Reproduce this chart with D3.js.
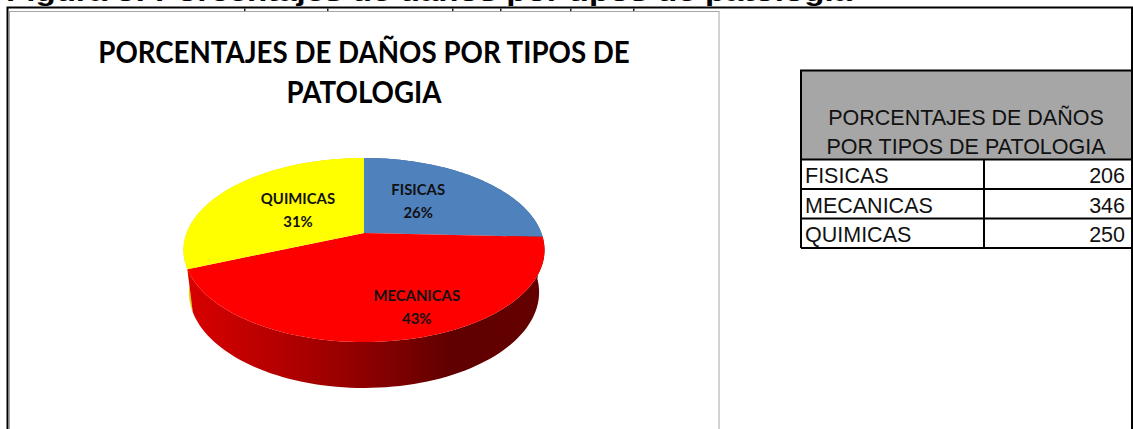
<!DOCTYPE html>
<html>
<head>
  <meta charset="utf-8">
  <script src="https://d3js.org/d3.v7.min.js"></script>
  <style>
    body { margin: 0; background: #fff; overflow: hidden; }
    svg { display: block; }
    .cell { font-family: "Liberation Sans", Arial, sans-serif; font-size: 21.5px; fill: #111; }
    .pielabel { font-family: Lato, sans-serif; font-weight: 700; font-size: 16px; fill: #111; text-anchor: middle; }
  </style>
</head>
<body>
  <div class="chart"></div>
  <script>
    var categories = ["FISICAS", "MECANICAS", "QUIMICAS"];
    var values = [206, 346, 250];
    var topColors = ["#4f81bd", "#ff0000", "#ffff00"];
    var titleLines = ["PORCENTAJES DE DAÑOS POR TIPOS DE", "PATOLOGIA"];
    var tableHead = ["PORCENTAJES DE DAÑOS", "POR TIPOS DE PATOLOGIA"];
    var caption = "Figura 3: Porcentajes de daños por tipos de patología";
    // labels in the picture sit off the slice middle, hand moved in the original
    var labelNudge = [[-6, -4], [36, 25], [4, 0]];
    var captionMarks = [244, 327, 452, 500, 570, 633];

    var width = 1133, height = 429;

    var svg = d3.select(".chart").append("svg")
      .attr("width", width)
      .attr("height", height);

    var defs = svg.append("defs");

    var wallGradient = defs.append("linearGradient")
      .attr("id", "wallRed")
      .attr("gradientUnits", "userSpaceOnUse")
      .attr("x1", 190).attr("x2", 545).attr("y1", 0).attr("y2", 0);
    [[0, "#d80000"], [0.31, "#ac0000"], [0.59, "#7c0000"], [0.73, "#600000"], [1, "#640000"]].forEach(function(s) {
      wallGradient.append("stop").attr("offset", s[0]).attr("stop-color", s[1]);
    });

    // caption, cut by the top of the picture
    svg.append("text")
      .attr("x", 6).attr("y", 1)
      .attr("textLength", 846)
      .attr("lengthAdjust", "spacingAndGlyphs")
      .style("font", "700 26px 'Liberation Sans', Arial, sans-serif")
      .text(caption);

    svg.selectAll(".mark").data(captionMarks).enter().append("rect")
      .attr("class", "mark")
      .attr("x", function(d) { return d; })
      .attr("y", 8.5).attr("width", 1.5).attr("height", 3)
      .attr("fill", "#222");

    // outer frame
    svg.append("path")
      .attr("d", "M7.5,429V7.5H1132V429")
      .attr("fill", "none").attr("stroke", "#000").attr("stroke-width", 2);

    // chart box
    svg.append("rect")
      .attr("x", 9.5).attr("y", 11.5).attr("width", 709.5).attr("height", 430)
      .attr("fill", "#fff").attr("stroke", "#a6a6a6").attr("stroke-width", 1);

    svg.selectAll(".title").data(titleLines).enter().append("text")
      .attr("class", "title")
      .attr("transform", function(d, i) { return "translate(364," + (63 + i * 40) + ") scale(0.923,1)"; })
      .attr("text-anchor", "middle")
      .style("font", "700 30px Lato, sans-serif")
      .attr("fill", "#000")
      .text(function(d) { return d; });

    // pie: disc seen in perspective, apex is not the middle of the ellipse
    var cx = 364, cy = 233, A = 177.4, B = 88.9, k = 0.185;
    var depthY = 41.5, scaleX = 0.97, scaleY = 1.04;

    var pie = d3.pie().sort(null)(values);
    var color = d3.scaleOrdinal().domain(categories).range(topColors);
    var total = d3.sum(values);
    var line = d3.line();

    function project(a, r) {
      var x = r * Math.sin(a), y = -r * Math.cos(a);
      var s = 1 / (1 - k * y);
      return [cx + A * x * s, cy + B * y * s];
    }

    function lower(p) {
      return [cx + (p[0] - cx) * scaleX, cy + depthY + (p[1] - cy) * scaleY];
    }

    function rim(d) {
      var n = 80;
      return d3.range(n + 1).map(function(i) {
        return project(d.startAngle + (d.endAngle - d.startAngle) * i / n, 1);
      });
    }

    var pieG = svg.append("g");

    // walls first, red last so it hides the blue one at the right edge
    [0, 2, 1].forEach(function(i) {
      var top = rim(pie[i]);
      var bottom = top.map(lower).reverse();
      pieG.append("path")
        .attr("d", line(top.concat(bottom)) + "Z")
        .attr("fill", i === 1 ? "url(#wallRed)" : i === 2 ? "#d8d800" : "#385d8a");
    });

    pieG.selectAll(".slice").data(pie).enter().append("path")
      .attr("class", "slice")
      .attr("d", function(d) { return line([[cx, cy]].concat(rim(d))) + "Z"; })
      .attr("fill", function(d, i) { return color(categories[i]); });

    var labels = pieG.selectAll(".pielabel").data(pie).enter().append("text")
      .attr("class", "pielabel")
      .attr("transform", function(d, i) {
        var p = project((d.startAngle + d.endAngle) / 2, 0.5);
        return "translate(" + (p[0] + labelNudge[i][0]) + "," + (p[1] + labelNudge[i][1]) + ") scale(0.93,1)";
      });
    labels.append("tspan").attr("x", 0).attr("y", -5).text(function(d, i) { return categories[i]; });
    labels.append("tspan").attr("x", 0).attr("y", 18).text(function(d) { return Math.round(d.value / total * 100) + "%"; });

    // data table
    var tableX = 801, tableR = 1131, colX = 984;
    var rowY = d3.scaleBand().domain(categories).range([159.5, 248]);

    svg.append("rect")
      .attr("x", tableX).attr("y", 71).attr("width", tableR - tableX).attr("height", 88.5)
      .attr("fill", "#a6a6a6");

    svg.selectAll(".headcell").data(tableHead).enter().append("text")
      .attr("class", "cell headcell")
      .attr("x", 966)
      .attr("y", function(d, i) { return 125 + i * 29; })
      .attr("text-anchor", "middle")
      .text(function(d) { return d; });

    var rows = svg.selectAll(".row").data(categories).enter().append("g")
      .attr("class", "row")
      .attr("transform", function(d) { return "translate(0," + rowY(d) + ")"; });

    rows.append("line")
      .attr("x1", tableX).attr("x2", tableR)
      .attr("y1", rowY.bandwidth()).attr("y2", rowY.bandwidth())
      .attr("stroke", "#000").attr("stroke-width", 2);

    rows.append("text")
      .attr("class", "cell")
      .attr("x", 805)
      .attr("y", 23.5)
      .text(function(d) { return d; });

    rows.append("text")
      .attr("class", "cell")
      .attr("x", 1125)
      .attr("y", 23.5)
      .attr("text-anchor", "end")
      .text(function(d, i) { return values[i]; });

    // table grid
    svg.append("path")
      .attr("d", "M" + tableX + ",248V70.5H" + tableR + "M" + tableX + ",159.5H" + tableR + "M" + colX + ",159.5V248")
      .attr("fill", "none").attr("stroke", "#000").attr("stroke-width", 2);
  </script>
</body>
</html>
